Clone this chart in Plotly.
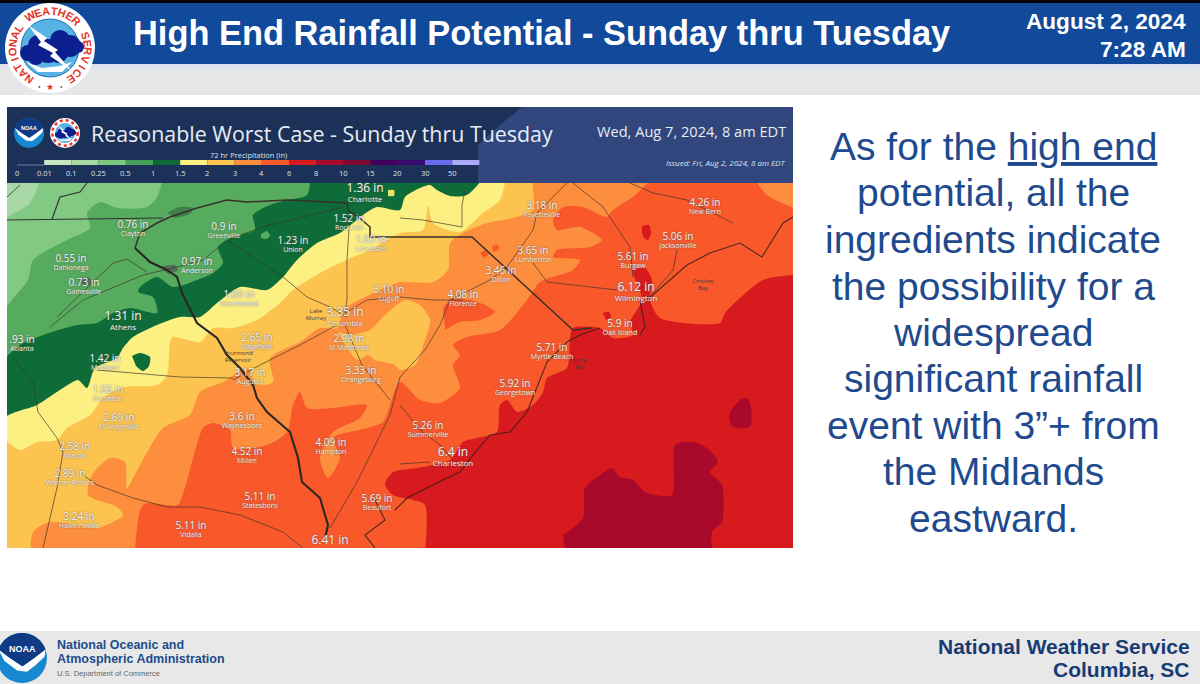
import math
import plotly.graph_objects as go

# Colours of the rainfall scale
legend_ticks = ["0", "0.01", "0.1", "0.25", "0.5", "1", "1.5", "2", "3", "4", "6", "8", "10", "15", "20", "30", "50"]
legend_colors = ["#c9e6c4", "#a6d8a0", "#7fc880", "#47a05a", "#0c6a36", "#fdf083", "#fcc44f", "#fd8e3d", "#f9582b",
                 "#d71a1e", "#a9092b", "#7c0a30", "#42005a", "#380a6e", "#6a6af0", "#aaaaf8"]

# Rainfall zones, each one drawn over the one before (map pixels)
zone_025 = [(43, 170), (30, 203), (0, 225), (-50, 650), (900, 650), (900, 120)]
zone_05 = [(165, 170), (157, 197), (147, 207), (117, 208), (100, 202), (87, 213), (90, 228), (67, 240), (33, 260),
           (28, 280), (0, 318), (-50, 650), (900, 650), (900, 120)]
zone_1 = [(311, 170), (307, 195), (287, 200), (270, 205), (253, 215), (255, 230), (233, 237), (218, 247), (223, 263),
          (213, 273), (197, 280), (173, 287), (157, 277), (140, 287), (138, 292), (153, 297), (157, 313), (130, 308),
          (113, 313), (97, 323), (77, 325), (43, 335), (20, 345), (0, 366), (-50, 650), (900, 650), (900, 120)]
zone_15 = [(490, 170), (467, 195), (450, 196), (437, 190), (430, 185), (420, 188), (405, 197), (400, 210), (377, 207),
           (363, 215), (353, 223), (340, 233), (317, 243), (297, 260), (283, 277), (267, 290), (240, 287), (217, 303),
           (200, 317), (180, 317), (157, 325), (133, 337), (123, 348), (117, 358), (95, 368), (87, 388), (78, 380),
           (63, 388), (37, 405), (0, 421), (-50, 650), (900, 650), (900, 120)]
zone_2 = [(0, 435), (20, 450), (37, 442), (57, 440), (67, 428), (90, 415), (103, 398), (123, 387), (157, 385),
          (167, 375), (170, 342), (173, 337), (200, 342), (213, 328), (233, 328), (257, 320), (280, 303), (293, 290),
          (320, 273), (353, 257), (370, 250), (400, 233), (423, 230), (428, 205), (433, 223), (460, 232), (483, 213),
          (500, 200), (512, 170), (900, 120), (900, 650), (-50, 650)]
zone_3 = [(33, 600), (33, 532), (50, 522), (97, 528), (113, 522), (123, 515), (117, 507), (88, 495), (92, 475),
          (110, 458), (125, 462), (127, 488), (140, 465), (163, 428), (190, 415), (200, 392), (223, 382), (247, 368),
          (257, 385), (273, 382), (270, 358), (300, 342), (320, 328), (337, 328), (343, 310), (353, 303), (380, 290),
          (400, 282), (433, 282), (448, 270), (450, 243), (463, 233), (487, 223), (513, 218), (533, 210), (536, 170),
          (900, 120), (900, 650)]
patch_2 = [(338, 332), (345, 345), (358, 360), (368, 355), (375, 360), (395, 365), (400, 370), (415, 365), (425, 340),
           (430, 320), (420, 305), (405, 300), (385, 315), (370, 330), (352, 335)]
zone_4 = [(133, 600), (143, 505), (167, 505), (178, 505), (203, 428), (213, 423), (230, 430), (233, 448), (267, 445),
          (287, 432), (293, 405), (300, 392), (307, 408), (333, 408), (367, 405), (360, 418), (333, 432), (320, 458),
          (328, 478), (340, 458), (333, 438), (367, 428), (383, 422), (400, 382), (420, 400), (440, 403), (460, 388),
          (453, 365), (460, 355), (453, 345), (467, 337), (500, 330), (527, 300), (540, 282), (573, 270), (580, 260),
          (553, 257), (557, 250), (590, 247), (602, 240), (580, 227), (557, 230), (553, 220), (563, 207), (583, 207),
          (607, 217), (613, 210), (633, 197), (665, 170), (745, 170), (767, 195), (800, 210), (900, 230), (900, 650)]
patch_4a = [(443, 308), (450, 300), (470, 300), (485, 305), (495, 312), (480, 320), (460, 322), (445, 330)]
patch_4b = [(480, 253), (486, 250), (488, 255), (484, 258)]
patch_4c = [(492, 246), (498, 245), (499, 249), (493, 252)]
zone_6 = [(420, 600), (425, 505), (413, 500), (393, 495), (385, 484), (393, 472), (417, 468), (450, 460), (463, 442),
          (477, 438), (497, 432), (500, 405), (507, 400), (517, 412), (533, 405), (543, 392), (547, 378), (567, 368),
          (570, 338), (573, 328), (600, 328), (613, 338), (633, 335), (630, 322), (642, 300), (633, 270), (645, 268),
          (652, 280), (650, 300), (660, 318), (720, 323), (725, 313), (763, 280), (793, 275), (900, 270), (900, 650)]
patch_6a = [(642, 226), (649, 225), (651, 233), (648, 240), (644, 238), (642, 232)]
patch_6b = [(603, 313), (609, 312), (611, 317), (606, 320)]
zone_8a = [(563, 535), (583, 518), (585, 488), (600, 475), (612, 468), (620, 477), (633, 480), (645, 492), (672, 495),
           (675, 445), (693, 442), (707, 448), (718, 462), (710, 472), (722, 485), (722, 522), (712, 532), (710, 600),
           (572, 600)]
zone_8b = [(730, 412), (740, 400), (747, 398), (751, 408), (751, 425), (747, 428), (733, 427), (729, 418)]
patch_1 = [(132, 356), (140, 353), (150, 357), (149, 366), (143, 371), (136, 366)]
patch_05 = [(261, 234), (267, 231), (270, 236), (266, 239), (261, 238)]
lake_a = [(167, 213), (180, 207), (193, 208), (190, 214), (175, 218)]
lake_b = [(160, 267), (175, 265), (178, 270), (168, 274)]
lake_c = [(78, 279), (90, 278), (92, 284), (84, 286)]

# Borders and roads
river_border = [(135, 248), (150, 262), (167, 270), (177, 277), (182, 293), (197, 323), (217, 338), (227, 355),
                (240, 368), (253, 385), (257, 398), (267, 412), (290, 432), (298, 458), (302, 482), (320, 498),
                (328, 525), (325, 538)]
sc_nc_border = [(135, 248), (140, 233), (157, 223), (170, 217), (197, 208), (227, 200), (247, 202), (287, 200),
                (347, 203), (348, 210), (362, 220), (370, 227), (370, 237), (472, 237), (573, 330), (592, 328)]
tn_border = [(7, 220), (163, 218)]
nc_tn_border = [(52, 219), (60, 197), (80, 192), (87, 183)]
corner_border = [(7, 197), (20, 185)]
roads = [
    [(57, 317), (113, 263), (127, 259), (147, 272)],
    [(50, 327), (83, 300), (143, 275), (177, 267), (203, 260), (227, 240), (263, 227), (343, 207)],
    [(227, 240), (253, 257), (283, 277), (307, 297), (330, 307), (347, 317)],
    [(350, 213), (347, 260), (347, 300), (345, 313)],
    [(337, 325), (300, 345), (260, 365), (233, 380)],
    [(97, 370), (120, 372), (160, 375), (180, 377), (233, 378)],
    [(13, 358), (33, 382), (38, 412), (57, 438), (63, 452), (57, 488), (43, 548)],
    [(83, 475), (97, 485), (133, 498), (167, 507), (200, 507), (240, 515), (283, 532), (303, 548)],
    [(330, 528), (357, 482), (390, 415), (400, 377), (425, 350), (440, 325), (450, 300), (490, 280), (507, 267),
     (533, 230), (537, 213), (567, 183)],
    [(345, 313), (367, 300), (400, 297), (433, 300), (463, 300)],
    [(573, 183), (603, 207), (630, 247), (633, 277)],
    [(533, 263), (547, 282), (617, 290)],
    [(462, 227), (423, 220), (400, 218)],
    [(462, 227), (462, 205), (465, 190)],
    [(630, 183), (653, 193), (687, 200), (713, 213), (733, 223)],
    [(677, 250), (673, 270), (647, 300)],
    [(345, 325), (362, 365), (390, 400)],
    [(400, 405), (420, 430), (440, 445), (453, 460)],
    [(400, 464), (430, 462)],
]
coast_lines = [
    [(647, 300), (687, 265), (710, 253), (740, 243), (762, 257), (783, 223), (793, 217)],
    [(640, 300), (645, 327), (640, 335)],
    [(600, 328), (580, 335), (567, 342), (547, 362), (527, 412), (510, 432), (490, 435), (473, 455), (460, 472),
     (443, 480), (407, 498), (395, 510)],
    [(375, 500), (385, 520), (365, 535), (375, 548)],
]

# Forecast totals on the map
city_names = ["Charlotte", "Rock Hill", "Lancaster", "Fayetteville", "New Bern", "Jacksonville", "Burgaw", "Lumberton",
              "Dillon", "Florence", "Wilmington", "Oak Island", "Clayton", "Greenville", "Union", "Dahlonega",
              "Anderson", "Gainesville", "Greenwood", "Lugoff", "Columbia", "Athens", "Atlanta", "Edgefield",
              "St Matthews", "Orangeburg", "Madison", "Augusta", "Eatonton", "Milledgeville", "Waynesboro", "Millen",
              "Hampton", "Macon", "Warner Robins", "Hawkinsville", "Statesboro", "Vidalia", "Beaufort", "",
              "Myrtle Beach", "Georgetown", "Summerville", "Charleston"]
city_totals = ["1.36 in", "1.52 in", "1.60 in", "3.18 in", "4.26 in", "5.06 in", "5.61 in", "3.65 in", "3.46 in",
               "4.08 in", "6.12 in", "5.9 in", "0.76 in", "0.9 in", "1.23 in", "0.55 in", "0.97 in", "0.73 in",
               "1.69 in", "3.10 in", "3.35 in", "1.31 in", ".93 in", "2.65 in", "2.98 in", "3.33 in", "1.42 in",
               "3.17 in", "1.66 in", "2.69 in", "3.6 in", "4.52 in", "4.09 in", "2.58 in", "2.89 in", "3.24 in",
               "5.11 in", "5.11 in", "5.69 in", "6.41 in", "5.71 in", "5.92 in", "5.26 in", "6.4 in"]
city_x = [365, 349, 371, 542, 705, 678, 633, 533, 501, 463, 636, 620, 133, 224, 293, 71, 197, 84, 239, 389, 345, 123,
          22, 257, 349, 361, 105, 250, 108, 119, 242, 247, 331, 75, 70, 79, 260, 191, 377, 330, 552, 515, 428, 453]
city_y = [189, 219, 240, 206, 203, 237, 257, 251, 271, 295, 288, 324, 225, 227, 241, 259, 262, 283, 295, 290, 313,
          317, 340, 338, 339, 371, 359, 373, 390, 418, 417, 452, 443, 447, 474, 517, 497, 526, 499, 541, 348, 384,
          426, 453]
big_cities = ["Charlotte", "Wilmington", "Columbia", "Charleston", "Athens", ""]
water_names = ["Lake<br>Murray", "Onslow<br>Bay", "Long<br>Bay", "Thurmond<br>Reservoir"]
water_x = [316, 703, 580, 238]
water_y = [315, 285, 364, 357]

slide_lines = ["As for the <u>high end</u>", "potential, all the", "ingredients indicate", "the possibility for a",
               "widespread", "significant rainfall", "event with 3”+ from", "the Midlands", "eastward."]
slide_line_y = [146, 192, 239, 286, 332, 378, 425, 471, 518]

SANS = "Liberation Sans"
MAP_FONT = "Open Sans"
BLUE_TEXT = "#1f4a8e"

fig = go.Figure()
shapes = []
notes = []


def xs(pts):
    return [p[0] for p in pts]


def ys(pts):
    return [p[1] for p in pts]


def zone(pts, color):
    fig.add_trace(go.Scatter(x=xs(pts), y=ys(pts), mode="lines", fill="toself", fillcolor=color,
                             line=dict(width=0, color=color, shape="spline", smoothing=0.7),
                             xaxis="x2", yaxis="y2", hoverinfo="skip", showlegend=False))


def band(pts, color):
    fig.add_trace(go.Scatter(x=xs(pts), y=ys(pts), mode="lines", fill="toself", fillcolor=color, line=dict(width=0),
                             xaxis="x2", yaxis="y2", hoverinfo="skip", showlegend=False))


def path(pts, color, width=1.0):
    fig.add_trace(go.Scatter(x=xs(pts), y=ys(pts), mode="lines", line=dict(width=width, color=color),
                             xaxis="x2", yaxis="y2", hoverinfo="skip", showlegend=False))


def rect(x0, y0, x1, y1, color, layer="below"):
    shapes.append(dict(type="rect", xref="x", yref="y", x0=x0, y0=y0, x1=x1, y1=y1, layer=layer,
                       fillcolor=color, line=dict(width=0)))


def circle(cx, cy, r, color, line_color=None, line_width=0, dash="solid"):
    shapes.append(dict(type="circle", xref="x", yref="y", x0=cx - r, y0=cy - r, x1=cx + r, y1=cy + r, layer="above",
                       fillcolor=color, line=dict(width=line_width, color=line_color or color, dash=dash)))


def poly(pts, color):
    d = "M " + " L ".join(f"{p[0]:.2f},{p[1]:.2f}" for p in pts) + " Z"
    shapes.append(dict(type="path", xref="x", yref="y", path=d, layer="above", fillcolor=color, line=dict(width=0)))


def note(x, y, text, size, color, family=SANS, anchor="center", angle=0):
    notes.append(dict(x=x, y=y, xref="x", yref="y", text=text, showarrow=False, xanchor=anchor, yanchor="middle",
                      textangle=angle, borderpad=0, font=dict(size=size, color=color, family=family)))


def nws_logo(cx, cy, r, letters=True):
    s = r / 45
    circle(cx, cy, r, "#ffffff")
    circle(cx, cy, 29 * s, "#58b2e4", "#1a6fb5", 1 * s)
    poly([(cx - 24 * s, cy + 14 * s), (cx - 8 * s, cy + 20 * s), (cx + 10 * s, cy + 18 * s), (cx + 22 * s, cy + 14 * s),
          (cx + 12 * s, cy + 24 * s), (cx - 12 * s, cy + 24 * s)], "#ffffff")
    for dx, dy, cr in [(-22, 5, 8), (-12, -3, 10), (-2, 3, 12), (10, -8, 10), (20, -2, 11), (28, -1, 6), (8, 5, 10), (-14, 9, 8)]:
        circle(cx + dx * s, cy + dy * s, cr * s, "#0c1f8f")
    bolt = [(-22, -23), (-3, -10), (-6, -7), (8, 2), (5, 4), (22, 23), (0, 8), (3, 5), (-12, -3), (-9, -6)]
    poly([(cx + p[0] * s, cy + p[1] * s) for p in bolt], "#ffffff")
    if letters:
        text = "NATIONAL WEATHER SERVICE"
        for i, ch in enumerate(text):
            a = -146 + i * 292 / (len(text) - 1)
            lx = cx + 37.5 * s * math.sin(math.radians(a))
            ly = cy - 37.5 * s * math.cos(math.radians(a))
            note(lx, ly, f"<b>{ch}</b>", 11 * s, "#e5332a", angle=a)
        note(cx, cy + 39 * s, "★", 9 * s, "#e5332a")
        note(cx - 11 * s, cy + 38 * s, "●", 4 * s, "#14307a")
        note(cx + 11 * s, cy + 38 * s, "●", 4 * s, "#14307a")
    else:
        circle(cx, cy, 38 * s, "rgba(0,0,0,0)", "#e5332a", 2.5, "dot")


def noaa_logo(cx, cy, r):
    circle(cx, cy, r, "#1788d0")
    arc = [(math.sin(math.radians(a)), -math.cos(math.radians(a))) for a in range(-70, 71, 5)]
    poly([(cx + p[0] * r, cy + p[1] * r) for p in arc + [(0.5, 0.0), (0.02, 0.34), (-0.5, 0.0)]], "#0f3a84")
    gull = [(-0.94, -0.34), (-0.5, 0.0), (0.02, 0.34), (0.5, 0.0), (0.94, -0.34), (0.9, -0.05), (0.55, 0.28),
            (0.2, 0.55), (-0.2, 0.5), (-0.7, 0.12)]
    poly([(cx + p[0] * r, cy + p[1] * r) for p in gull], "#ffffff")
    note(cx, cy - 0.35 * r, "<b>NOAA</b>", 0.36 * r, "#ffffff")


# Slide background
rect(0, 0, 1200, 684, "#ffffff")
rect(0, 64, 1200, 95, "#e6e7e9")
rect(0, 3, 1200, 64, "#114a9b")
rect(0, 64, 1200, 68, "#dde4ef")
rect(0, 0, 1200, 3, "#050505")
rect(0, 631, 1200, 684, "#e8e8e8")

# Map
band([(-50, 120), (900, 120), (900, 650), (-50, 650)], "#a8d8a5")
zone(zone_025, "#82c984")
zone(zone_05, "#57ab5f")
zone(zone_1, "#0d6c37")
zone(patch_05, "#57ab5f")
zone(zone_15, "#fdf083")
zone(patch_1, "#0d6c37")
zone(zone_2, "#fcc44f")
zone(zone_3, "#fd8e3d")
zone(patch_2, "#fcc44f")
zone(zone_4, "#f9582b")
zone(patch_4a, "#f9582b")
zone(patch_4b, "#f9582b")
zone(patch_4c, "#f9582b")
zone(zone_6, "#d71a1e")
zone(patch_6a, "#d71a1e")
zone(patch_6b, "#d71a1e")
zone(zone_8a, "#a9092b")
zone(zone_8b, "#a9092b")
zone(lake_a, "#3f7f4c")
zone(lake_b, "#4f7058")
zone(lake_c, "#4f7058")
zone([(388, 190), (394, 190), (394, 196), (388, 196)], "#e9e56a")

for road in roads:
    path(road, "rgba(60,50,45,0.75)", 0.9)
for coast in coast_lines:
    path(coast, "rgba(50,30,30,0.85)", 1.1)
path(tn_border, "#333333", 1.2)
path(nc_tn_border, "#333333", 1.2)
path(corner_border, "#555555", 1)
path(sc_nc_border, "#3a2f2a", 1.5)
path(river_border, "#2a2623", 2.1)

# Map header band
band([(0, 100), (800, 100), (800, 183), (0, 183)], "#30467c")
band([(0, 100), (522, 100), (522, 107), (500, 125), (478, 145), (478, 183), (0, 183)], "#1c3157")

# Totals and place names on the map
total_sizes = [12 if c in big_cities else 10 for c in city_names]
name_sizes = [8 if c in big_cities else 7 for c in city_names]
name_y = [y + (10.5 if c in big_cities else 9) for y, c in zip(city_y, city_names)]
fig.add_trace(go.Scatter(x=city_x, y=city_y, text=city_totals, mode="text", xaxis="x2", yaxis="y2", hoverinfo="skip",
                         showlegend=False, textposition="middle center",
                         textfont=dict(family=MAP_FONT, size=total_sizes, color="#f4f2f2", shadow="0 0 2px #555555")))
fig.add_trace(go.Scatter(x=city_x, y=name_y, text=city_names, mode="text", xaxis="x2", yaxis="y2", hoverinfo="skip",
                         showlegend=False, textposition="middle center",
                         textfont=dict(family=MAP_FONT, size=name_sizes, color="#f0eeee", shadow="0 0 2px #555555")))
fig.add_trace(go.Scatter(x=water_x, y=water_y, text=water_names, mode="text", xaxis="x2", yaxis="y2", hoverinfo="skip",
                         showlegend=False, textposition="middle center",
                         textfont=dict(family=MAP_FONT, size=6, color="#4a3a3a")))

# Legend of the map
LEGEND_X0 = 17
LEGEND_STEP = 27.2
for i, col in enumerate(legend_colors):
    rect(LEGEND_X0 + (i + 1) * LEGEND_STEP, 160, LEGEND_X0 + (i + 2) * LEGEND_STEP, 165, col, layer="above")
for i, tick in enumerate(legend_ticks):
    note(LEGEND_X0 + i * LEGEND_STEP, 172.5, tick, 7.5, "#dfe4ee", MAP_FONT)
shapes.append(dict(type="line", xref="x", yref="y", x0=LEGEND_X0, x1=LEGEND_X0 + LEGEND_STEP, y0=165, y1=165,
                   layer="above", line=dict(width=0.6, color="#aab4c8")))
note(248, 155, "72 hr Precipitation (in)", 7.5, "#dfe4ee", MAP_FONT)
note(90, 133, "Reasonable Worst Case - Sunday thru Tuesday", 21.4, "#e8ecf4", MAP_FONT, "left")
note(787, 131, "Wed, Aug 7, 2024, 8 am EDT", 14.6, "#e8ecf4", MAP_FONT, "right")
note(786, 162, "<i>Issued: Fri, Aug 2, 2024, 8 am EDT</i>", 8, "#dfe4ee", MAP_FONT, "right")
noaa_logo(29, 133, 15)
nws_logo(65, 133, 15, letters=False)

# Slide texts
note(541, 33, "<b>High End Rainfall Potential - Sunday thru Tuesday</b>", 34.4, "#ffffff")
note(1187, 21, "<b>August 2, 2024</b>", 22.6, "#ffffff", anchor="right")
note(1187, 49, "<b>7:28 AM</b>", 22.6, "#ffffff", anchor="right")
for line, y in zip(slide_lines, slide_line_y):
    note(993, y, line, 39, BLUE_TEXT)
note(56, 645, "<b>National Oceanic and</b>", 12.5, "#1c4c8c", anchor="left")
note(56, 659, "<b>Atmospheric Administration</b>", 12.5, "#1c4c8c", anchor="left")
note(56, 673, "U.S. Department of Commerce", 7.5, "#666666", anchor="left")
note(1191, 646, "<b>National Weather Service</b>", 21, "#173c73", anchor="right")
note(1191, 669, "<b>Columbia, SC</b>", 21, "#173c73", anchor="right")
nws_logo(50, 48, 45)
noaa_logo(22, 658, 25)

fig.update_layout(
    width=1200, height=684, margin=dict(l=0, r=0, t=0, b=0), paper_bgcolor="#ffffff", plot_bgcolor="rgba(0,0,0,0)",
    showlegend=False, shapes=shapes, annotations=notes,
    xaxis=dict(range=[0, 1200], visible=False, fixedrange=True),
    yaxis=dict(range=[684, 0], visible=False, fixedrange=True),
    xaxis2=dict(range=[7, 793], domain=[7 / 1200, 793 / 1200], visible=False, fixedrange=True, anchor="y2"),
    yaxis2=dict(range=[548, 107], domain=[1 - 548 / 684, 1 - 107 / 684], visible=False, fixedrange=True, anchor="x2"),
)
fig.write_html("out.html", config=dict(displayModeBar=False),
               post_script="document.body.style.margin='0';document.body.style.overflow='hidden';")
